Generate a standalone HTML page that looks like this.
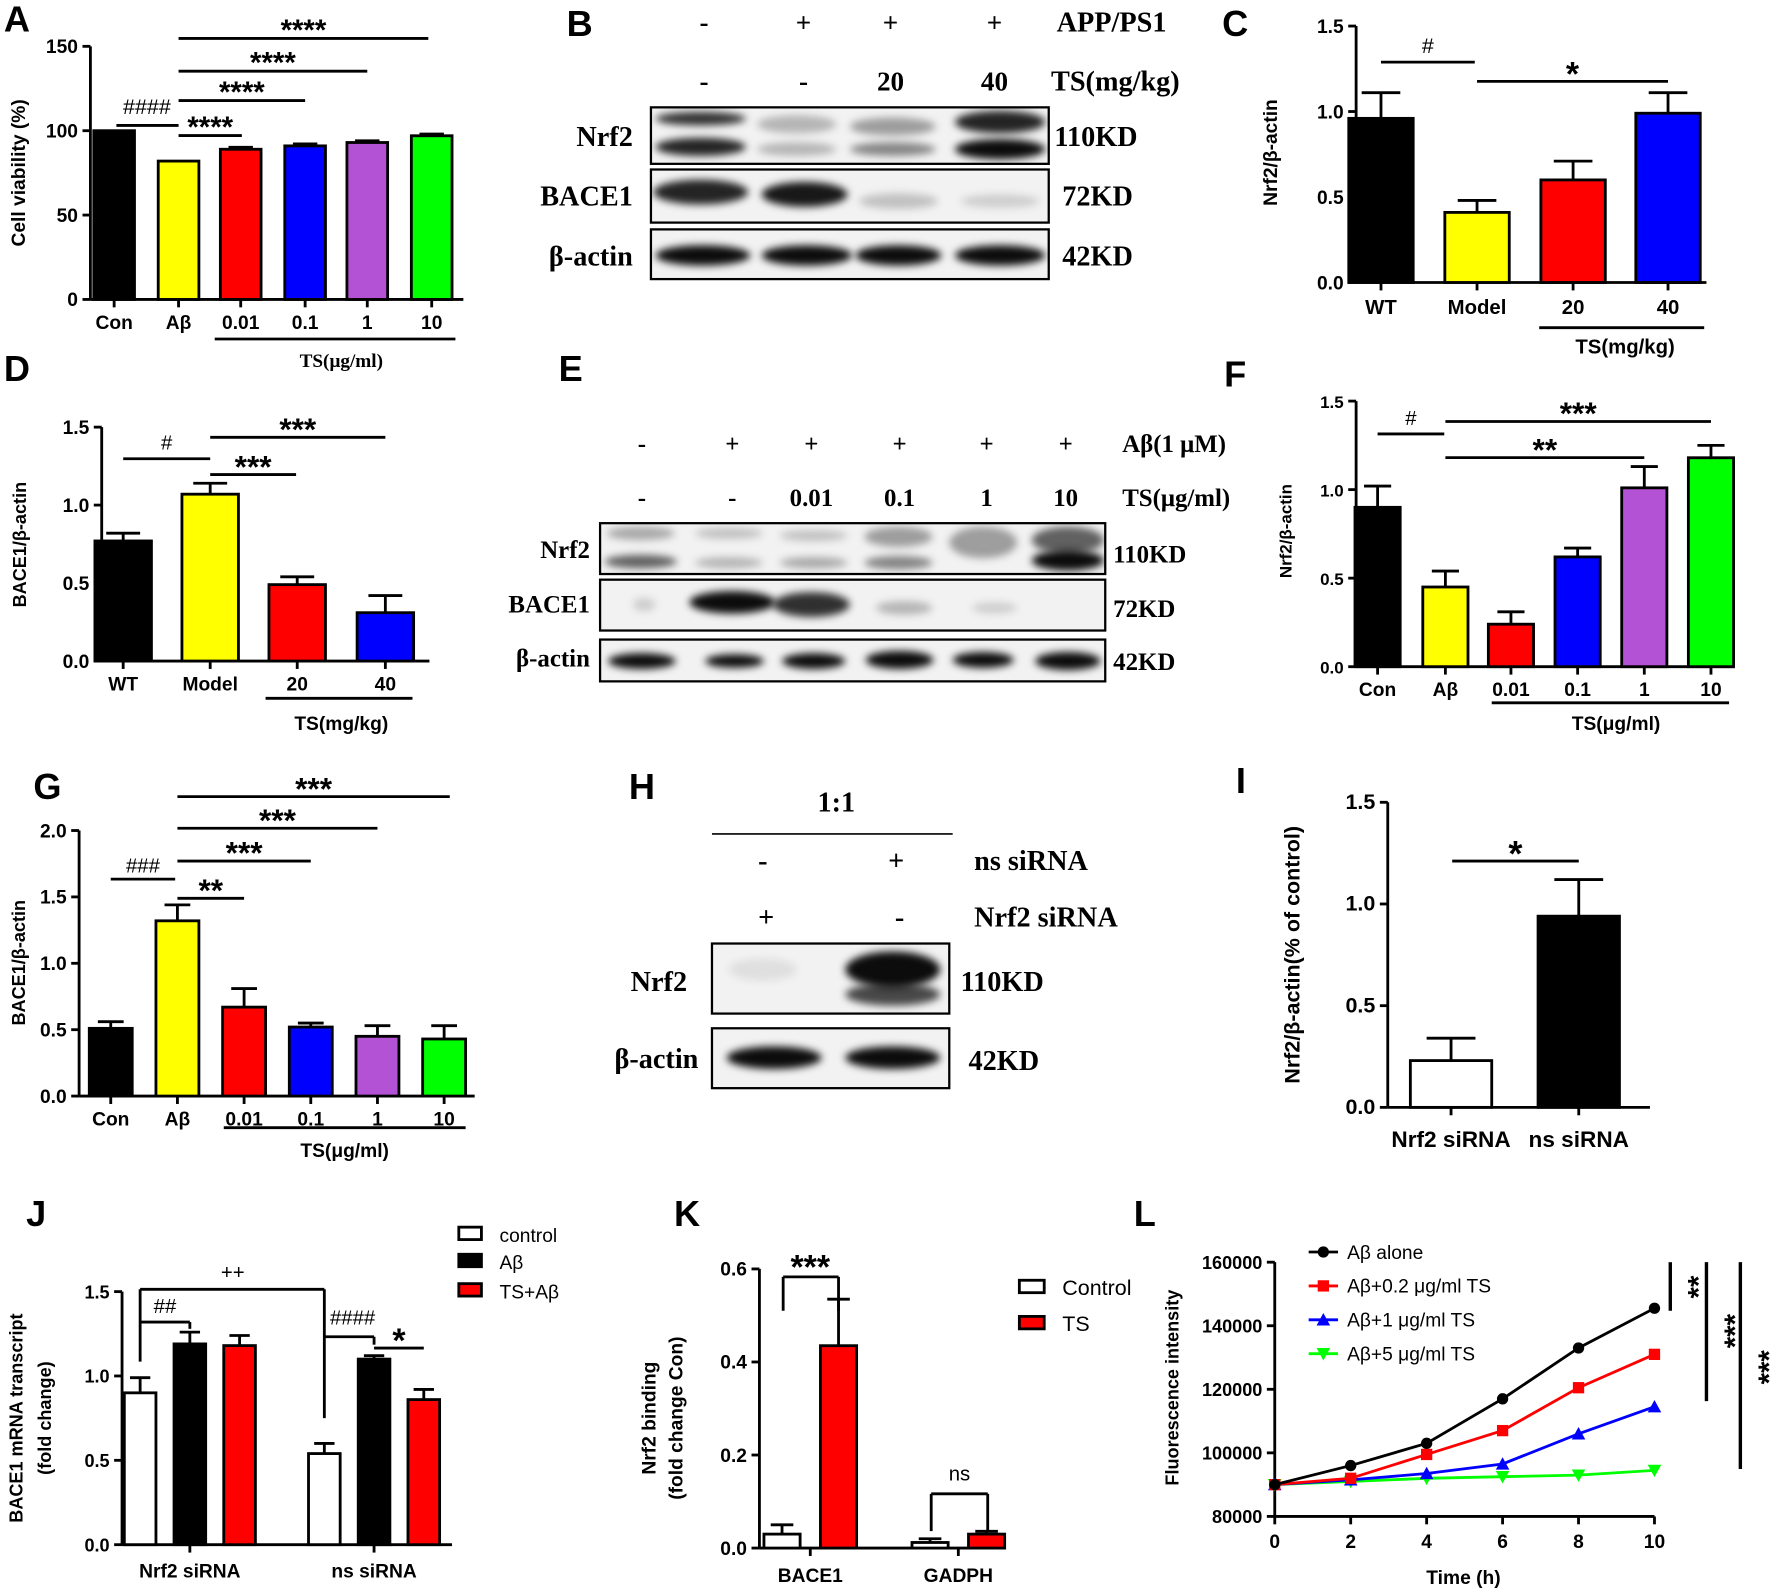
<!DOCTYPE html>
<html><head><meta charset="utf-8"><style>
html,body{margin:0;padding:0;background:#fff;}
svg{display:block;}
text{font-family:"Liberation Sans",sans-serif;}
.serif{font-family:"Liberation Serif",serif;font-weight:bold;}
</style></head><body>
<svg id="fig" width="1772" height="1591" viewBox="0 0 1568 1408" preserveAspectRatio="none" xmlns="http://www.w3.org/2000/svg">
<defs><filter id="blur" x="-30%" y="-100%" width="160%" height="300%"><feGaussianBlur stdDeviation="3.5"/></filter>
<filter id="blur2" x="-30%" y="-100%" width="160%" height="300%"><feGaussianBlur stdDeviation="6"/></filter></defs>
</svg>
<script>
// ---------- data ----------
const aCats=["Con","Aβ","0.01","0.1","1","10"];
const aVals=[100,82,89,91,93,97];
const aErrs=[0,0,1.2,1.2,1,1];
const cCats=["WT","Model","20","40"];
const cVals=[0.96,0.41,0.60,0.99];
const cErrs=[0.15,0.07,0.11,0.12];
const dCats=["WT","Model","20","40"];
const dVals=[0.77,1.07,0.49,0.31];
const dErrs=[0.05,0.07,0.05,0.11];
const fCats=["Con","Aβ","0.01","0.1","1","10"];
const fVals=[0.90,0.45,0.24,0.62,1.01,1.18];
const fErrs=[0.12,0.09,0.07,0.05,0.12,0.07];
const gCats=["Con","Aβ","0.01","0.1","1","10"];
const gVals=[0.51,1.32,0.67,0.52,0.45,0.43];
const gErrs=[0.05,0.12,0.14,0.03,0.08,0.10];
const iCats=["Nrf2 siRNA","ns siRNA"];
const iVals=[0.23,0.94];
const iErrs=[0.11,0.18];
const jGroups=["Nrf2 siRNA","ns siRNA"];
const jControl=[0.90,0.54];
const jAb=[1.19,1.10];
const jTsAb=[1.18,0.86];
const jControlErr=[0.09,0.06];
const jAbErr=[0.07,0.02];
const jTsAbErr=[0.06,0.06];
const kGroups=["BACE1","GADPH"];
const kControl=[0.03,0.012];
const kTS=[0.435,0.03];
const kControlErr=[0.02,0.008];
const kTSErr=[0.10,0.006];
const lTimes=[0,2,4,6,8,10];
const lAbAlone=[90000,96000,103000,117000,133000,145500];
const lAb02=[90000,92000,99500,107000,120500,131000];
const lAb1=[90000,91500,93500,96500,106000,114500];
const lAb5=[90000,91000,92000,92500,93000,94500];
const lYTicks=[80000,100000,120000,140000,160000];

const NS="http://www.w3.org/2000/svg";
const svg=document.getElementById('fig');
function el(tag,attrs,parent,txt){const e=document.createElementNS(NS,tag);for(const k in attrs)e.setAttribute(k,attrs[k]);if(txt!==undefined)e.textContent=txt;(parent||svg).appendChild(e);return e;}
function line(x1,y1,x2,y2,w,p,c){return el('line',{x1,y1,x2,y2,stroke:c||'#000','stroke-width':w||2.5},p);}
function text(x,y,s,size,opts,p){opts=opts||{};const t=el('text',{x,y,'font-size':size,'text-anchor':opts.anchor||'middle','font-weight':opts.weight||'bold',fill:'#000'},p,s);if(opts.cls)t.setAttribute('class',opts.cls);if(opts.rot)t.setAttribute('transform',`rotate(-90 ${x} ${y})`);return t;}
function stars(x,yCenter,s,fs,p){return text(x,yCenter+0.55*fs,s,fs,{weight:'bold'},p);}
function group(name){const g=el('g',{},svg);return g;}

function yAxis(g,x,yScale,ticks,labels,top,bottom,fs){line(x,top,x,bottom,2.5,g);ticks.forEach((t,i)=>{const y=yScale(t);line(x-7,y,x,y,2.5,g);text(x-11,y+6,labels[i],fs||17,{anchor:'end'},g);});}

function barChart(o){
  const g=group(o.name);
  const ys=v=>o.y0-(v-o.ymin)*o.ppu;
  yAxis(g,o.x0,ys,o.ticks,o.tickLabels,ys(o.ticks[o.ticks.length-1]),o.y0,o.fs);
  line(o.x0,o.y0,o.xEnd,o.y0,2.5,g);
  o.cats.forEach((c,i)=>{
    const cx=o.centers[i];
    line(cx,o.y0,cx,o.y0+7,2.5,g);
    const top=ys(o.vals[i]);
    const r=el('rect',{x:cx-o.bw/2,y:top,width:o.bw,height:o.y0-top,fill:o.colors[i],stroke:'#000','stroke-width':2.5},g);
    
    
    if(o.errs[i]>0){const et=ys(o.vals[i]+o.errs[i]);line(cx,top,cx,et,2.5,g);line(cx-o.bw*0.3,et,cx+o.bw*0.3,et,2.5,g);}
    text(cx,o.labelY,c,o.lfs||17,{},g);
  });
  return g;
}
function sig(g,x1,x2,y,label,fs,dy){line(x1,y,x2,y,2.5,g);
  if(label.indexOf('*')>=0){stars((x1+x2)/2,y-13,label,fs||28,g);}
  else text((x1+x2)/2,y-(dy||5),label,fs||19,{weight:'normal'},g);}

// ---------- panel letters ----------
[["A",15,28],["B",513,32],["C",1093,32],["D",15,337],["E",505,337],["F",1093,342],["G",42,707],["H",568,707],["I",1098,702],["J",32,1085],["K",608,1085],["L",1013,1085]].forEach(p=>{const t=text(p[1],p[2],p[0],32,{anchor:'middle'});});

// ---------- Panel A ----------
(function(){const g=barChart({name:'panel-a-chart',x0:80,y0:265,ymin:0,ppu:224/150,ticks:[0,50,100,150],tickLabels:["0","50","100","150"],xEnd:410,cats:aCats,vals:aVals,errs:aErrs,centers:[101,158,213,270,325,382],bw:36,colors:['#000','#ffff00','#ff0000','#0000ff','#b452d6','#00ff00'],labelY:291});
line(190,300,403,300,2.5,g);text(302,325,"TS(μg/ml)",17,{cls:'serif'},g);
text(22,153,"Cell viability (%)",17,{rot:1},g);
line(103,111,158,111,2.5,g);text(130,101,"####",19,{weight:'normal'},g);
sig(g,158,214,120,"****",26);sig(g,158,270,89,"****",26);sig(g,158,325,63,"****",26);sig(g,158,379,34,"****",26);
})();

// ---------- blots ----------
function blot(g,x,y,w,h,bands,name){const b=el('g',{},g);
  el('rect',{x,y,width:w,height:h,fill:'#f2f2f2',stroke:'#000','stroke-width':2},b);
  const cl=el('clipPath',{id:'c'+name},b);el('rect',{x,y,width:w,height:h},cl);
  const inner=el('g',{'clip-path':`url(#c${name})`},b);
  bands.forEach(bd=>{el('ellipse',{cx:bd[0],cy:bd[1],rx:bd[2],ry:bd[3],fill:'#000','fill-opacity':bd[4],filter:bd[5]?'url(#blur2)':'url(#blur)'},inner);});
  return b;}
(function(){const g=group('panel-b-blot');
 const lx=[623,711,788,880];
 ["-","+","+","+"].forEach((s,i)=>text(lx[i],28,s,24,{cls:'serif'},g));
 ["-","-","20","40"].forEach((s,i)=>text(lx[i],80,s,24,{cls:'serif'},g));
 text(935,28,"APP/PS1",25,{cls:'serif',anchor:'start'},g);text(930,80,"TS(mg/kg)",25,{cls:'serif',anchor:'start'},g);
 blot(g,576,95,352,50,[[620,105,40,6,0.8],[620,130,40,8,0.85],[705,110,35,8,0.25],[705,132,35,6,0.25],[790,112,38,8,0.35],[790,132,38,6,0.45],[885,108,40,10,0.85],[885,132,40,9,0.95]],'b-nrf2');
 blot(g,576,150,352,47,[[620,170,42,11,0.85],[712,172,38,11,0.9],[795,178,35,7,0.2],[885,178,35,6,0.15]],'b-bace1');
 blot(g,576,203,352,44,[[622,226,42,9,0.95],[714,226,40,9,0.95],[795,226,38,9,0.95],[885,226,40,9,0.95]],'b-actin');
 [["Nrf2",120],["BACE1",173],["β-actin",226]].forEach(r=>text(560,r[1]+9,r[0],25,{cls:'serif',anchor:'end'},g));
 [["110KD",933,120],["72KD",940,173],["42KD",940,226]].forEach(r=>text(r[1],r[2]+9,r[0],25,{cls:'serif',anchor:'start'},g));
})();
(function(){const g=group('panel-e-blot');
 const lx=[568,648,718,796,873,943];
 ["-","+","+","+","+","+"].forEach((s,i)=>text(lx[i],400,s,22,{cls:'serif'},g));
 ["-","-","0.01","0.1","1","10"].forEach((s,i)=>text(lx[i],448,s,22,{cls:'serif'},g));
 text(993,400,"Aβ(1 μM)",22,{cls:'serif',anchor:'start'},g);text(993,448,"TS(μg/ml)",22,{cls:'serif',anchor:'start'},g);
 blot(g,531,463,447,45,[[567,472,30,6,0.3],[567,497,32,6,0.6],[645,472,30,5,0.2],[645,498,30,5,0.25],[720,474,30,5,0.2],[720,498,30,5,0.3],[795,475,30,9,0.35],[795,498,30,6,0.45],[870,480,30,14,0.35],[945,478,32,12,0.6],[945,496,32,9,0.95]],'e-nrf2');
 blot(g,531,513,447,45,[[570,535,10,6,0.15],[648,533,38,10,0.95],[718,535,34,11,0.8],[800,538,25,6,0.25],[880,538,20,5,0.15]],'e-bace1');
 blot(g,531,566,447,37,[[568,585,30,7,0.95],[650,585,26,6,0.95],[720,585,28,7,0.95],[796,584,30,8,0.95],[870,584,27,7,0.95],[945,585,29,8,0.95]],'e-actin');
 [["Nrf2",486],["BACE1",534],["β-actin",582]].forEach(r=>text(522,r[1]+8,r[0],22,{cls:'serif',anchor:'end'},g));
 [["110KD",490],["72KD",538],["42KD",585]].forEach(r=>text(985,r[1]+8,r[0],22,{cls:'serif',anchor:'start'},g));
})();
(function(){const g=group('panel-h-blot');
 text(740,718,"1:1",25,{cls:'serif'},g);line(630,738,843,738,1.5,g);
 text(675,770,"-",25,{cls:'serif'},g);text(793,770,"+",25,{cls:'serif'},g);text(862,770,"ns siRNA",25,{cls:'serif',anchor:'start'},g);
 text(678,820,"+",25,{cls:'serif'},g);text(796,820,"-",25,{cls:'serif'},g);text(862,820,"Nrf2 siRNA",25,{cls:'serif',anchor:'start'},g);
 blot(g,630,835,210,62,[[675,858,30,10,0.08],[790,858,42,16,0.95],[790,880,42,10,0.7]],'h-nrf2');
 blot(g,630,910,210,53,[[685,936,42,10,0.95],[790,936,42,10,0.95]],'h-actin');
 text(608,877,"Nrf2",25,{cls:'serif',anchor:'end'},g);text(618,945,"β-actin",25,{cls:'serif',anchor:'end'},g);
 text(850,877,"110KD",25,{cls:'serif',anchor:'start'},g);text(857,947,"42KD",25,{cls:'serif',anchor:'start'},g);
})();

// ---------- Panel C ----------
(function(){const g=barChart({name:'panel-c-chart',x0:1200,y0:250,ymin:0,ppu:151.3,ticks:[0,0.5,1,1.5],tickLabels:["0.0","0.5","1.0","1.5"],xEnd:1510,cats:cCats,vals:cVals,errs:cErrs,centers:[1222,1307,1392,1476],bw:57,colors:['#000','#ffff00','#ff0000','#0000ff'],labelY:278,lfs:18});
line(1362,290,1508,290,2.5,g);text(1438,313,"TS(mg/kg)",18,{},g);text(1130,135,"Nrf2/β-actin",17,{rot:1},g);
sig(g,1222,1305,55,"#",19,8);sig(g,1307,1476,72,"*",30);})();
// ---------- Panel D ----------
(function(){const g=barChart({name:'panel-d-chart',x0:90,y0:585,ymin:0,ppu:138,ticks:[0,0.5,1,1.5],tickLabels:["0.0","0.5","1.0","1.5"],xEnd:380,cats:dCats,vals:dVals,errs:dErrs,centers:[109,186,263,341],bw:50,colors:['#000','#ffff00','#ff0000','#0000ff'],labelY:611});
line(235,618,365,618,2.5,g);text(302,646,"TS(mg/kg)",17,{},g);text(23,482,"BACE1/β-actin",16,{rot:1},g);
sig(g,109,186,406,"#",18,8);sig(g,186,262,420,"***",28);sig(g,186,341,387,"***",28);})();
// ---------- Panel F ----------
(function(){const g=barChart({name:'panel-f-chart',x0:1200,y0:590,ymin:0,ppu:156.7,ticks:[0,0.5,1,1.5],tickLabels:["0.0","0.5","1.0","1.5"],xEnd:1535,cats:fCats,vals:fVals,errs:fErrs,centers:[1219,1279,1337,1396,1455,1514],bw:40,colors:['#000','#ffff00','#ff0000','#0000ff','#b452d6','#00ff00'],labelY:616,fs:15});
line(1320,622,1530,622,2.5,g);text(1430,646,"TS(μg/ml)",17,{},g);text(1143,470,"Nrf2/β-actin",15,{rot:1},g);
sig(g,1219,1278,384,"#",18,8);sig(g,1279,1455,405,"**",28);sig(g,1279,1514,373,"***",28);})();
// ---------- Panel G ----------
(function(){const g=barChart({name:'panel-g-chart',x0:70,y0:970,ymin:0,ppu:117.5,ticks:[0,0.5,1,1.5,2],tickLabels:["0.0","0.5","1.0","1.5","2.0"],xEnd:420,cats:gCats,vals:gVals,errs:gErrs,centers:[98,157,216,275,334,393],bw:38,colors:['#000','#ffff00','#ff0000','#0000ff','#b452d6','#00ff00'],labelY:996});
line(198,998,412,998,2.5,g);text(305,1024,"TS(μg/ml)",17,{},g);text(22,852,"BACE1/β-actin",16,{rot:1},g);
sig(g,98,155,778,"###",18,6);sig(g,157,216,795,"**",28);sig(g,157,275,762,"***",28);sig(g,157,334,733,"***",28);sig(g,157,398,705,"***",28);})();
// ---------- Panel I ----------
(function(){const g=barChart({name:'panel-i-chart',x0:1228,y0:980,ymin:0,ppu:180,ticks:[0,0.5,1,1.5],tickLabels:["0.0","0.5","1.0","1.5"],xEnd:1460,cats:iCats,vals:iVals,errs:iErrs,centers:[1284,1397],bw:72,colors:['#fff','#000'],labelY:1015,lfs:20,fs:19});
text(1150,845,"Nrf2/β-actin(% of control)",19,{rot:1},g);sig(g,1285,1397,762,"*",32);})();

// ---------- Panel J ----------
(function(){const g=group('panel-j-chart');const x0=108,y0=1367,ppu=149.3;const ys=v=>y0-v*ppu;
 yAxis(g,x0,ys,[0,0.5,1,1.5],["0.0","0.5","1.0","1.5"],ys(1.5),y0,16);line(x0,y0,400,y0,2.5,g);
 const off=[-44,0,44],series=[jControl,jAb,jTsAb],errs=[jControlErr,jAbErr,jTsAbErr],cols=['#fff','#000','#ff0000'],centers=[168,331];
 jGroups.forEach((gn,i)=>{line(centers[i],y0,centers[i],y0+7,2.5,g);text(centers[i],1396,gn,17,{},g);
  series.forEach((s,k)=>{const cx=centers[i]+off[k],t=ys(s[i]);const r=el('rect',{x:cx-14,y:t,width:28,height:y0-t,fill:cols[k],stroke:'#000','stroke-width':2.5},g);
   
   const et=ys(s[i]+errs[k][i]);line(cx,t,cx,et,2.5,g);line(cx-9,et,cx+9,et,2.5,g);});});
 line(124,1141,287,1141,2.5,g);line(124,1141,124,1205,2.5,g);line(287,1141,287,1255,2.5,g);text(206,1132,"++",18,{weight:'normal'},g);
 line(124,1170,168,1170,2.5,g);line(168,1170,168,1176,2.5,g);text(146,1162,"##",18,{weight:'normal'},g);
 line(287,1183,331,1183,2.5,g);line(331,1183,331,1190,2.5,g);text(312,1172,"####",18,{weight:'normal'},g);
 sig(g,331,375,1193,"*",30);
 text(20,1255,"BACE1 mRNA transcript",16,{rot:1},g);text(45,1255,"(fold change)",16,{rot:1},g);
 [["control",'#fff',1092],["Aβ",'#000',1116],["TS+Aβ",'#ff0000',1142]].forEach(l=>{el('rect',{x:406,y:l[2]-6,width:20,height:11,fill:l[1],stroke:'#000','stroke-width':2.5},g);text(442,l[2]+7,l[0],17,{anchor:'start',weight:'normal'},g);});
})();
// ---------- Panel K ----------
(function(){const g=group('panel-k-chart');const x0=672,y0=1370,ppu=411.7;const ys=v=>y0-v*ppu;
 yAxis(g,x0,ys,[0,0.2,0.4,0.6],["0.0","0.2","0.4","0.6"],ys(0.6),y0,17);line(x0,y0,890,y0,2.5,g);
 const centers=[717,848];
 kGroups.forEach((gn,i)=>{line(centers[i],y0,centers[i],y0+7,2.5,g);text(centers[i],1400,gn,17,{},g);
  [[kControl,kControlErr,'#fff',-25],[kTS,kTSErr,'#ff0000',25]].forEach(s=>{const cx=centers[i]+s[3],t=ys(s[0][i]);const r=el('rect',{x:cx-16,y:t,width:32,height:y0-t,fill:s[2],stroke:'#000','stroke-width':2.5},g);
   
   const et=ys(s[0][i]+s[1][i]);line(cx,t,cx,et,2.5,g);line(cx-10,et,cx+10,et,2.5,g);});});
 line(693,1130,742,1130,2.5,g);line(693,1130,693,1160,2.5,g);line(742,1130,742,1160,2.5,g);stars(717,1115,"***",30,g);
 line(824,1322,874,1322,2.5,g);line(824,1322,824,1355,2.5,g);line(874,1322,874,1355,2.5,g);text(849,1310,"ns",18,{weight:'normal'},g);
 text(580,1255,"Nrf2 binding",17,{rot:1},g);text(604,1255,"(fold change Con)",17,{rot:1},g);
 el('rect',{x:902,y:1133,width:22,height:11,fill:'#fff',stroke:'#000','stroke-width':2.5},g);text(940,1146,"Control",19,{anchor:'start',weight:'normal'},g);
 el('rect',{x:902,y:1165,width:22,height:11,fill:'#ff0000',stroke:'#000','stroke-width':2.5},g);text(940,1178,"TS",19,{anchor:'start',weight:'normal'},g);
})();
// ---------- Panel L ----------
(function(){const g=group('panel-l-chart');const x0=1128,y0=1342;const ys=v=>y0-(v-80000)*(56.25/20000);const xs=t=>x0+t*33.6;
 yAxis(g,x0,ys,lYTicks,lYTicks.map(String),ys(160000),y0,16);line(x0,y0,xs(10),y0,2.5,g);
 lTimes.forEach(t=>{line(xs(t),y0,xs(t),y0+7,2.5,g);text(xs(t),1370,String(t),17,{},g);});
 text(1295,1402,"Time (h)",17,{},g);text(1043,1228,"Fluorescence intensity",16,{rot:1},g);
 const ser=[[lAbAlone,'#000','circle'],[lAb02,'#ff0000','square'],[lAb1,'#0000ff','tri'],[lAb5,'#00ff00','itri']];
 const marker=(x,y,c,m,p)=>{if(m==='circle')el('circle',{cx:x,cy:y,r:5,fill:c},p);else if(m==='square')el('rect',{x:x-5,y:y-5,width:10,height:10,fill:c},p);else if(m==='tri')el('polygon',{points:`${x},${y-6} ${x-6},${y+5} ${x+6},${y+5}`,fill:c},p);else el('polygon',{points:`${x},${y+6} ${x-6},${y-5} ${x+6},${y-5}`,fill:c},p);};
 ser.slice().reverse().forEach(s=>{const sg=el('g',{},g);
  el('polyline',{points:lTimes.map((t,i)=>xs(t)+','+ys(s[0][i])).join(' '),fill:'none',stroke:s[1],'stroke-width':2.5},sg);
  lTimes.forEach((t,i)=>marker(xs(t),ys(s[0][i]),s[1],s[2],sg));});
 [["Aβ alone",1108],["Aβ+0.2 μg/ml TS",1138],["Aβ+1 μg/ml TS",1168],["Aβ+5 μg/ml TS",1198]].forEach((l,i)=>{line(1158,l[1],1184,l[1],2.5,g,ser[i][1]);marker(1171,l[1],ser[i][1],ser[i][2],g);text(1192,l[1]+6,l[0],17,{anchor:'start',weight:'normal'},g);});
 line(1478,1117,1478,1160,3,g);text(1512,1139,"**",26,{rot:1,weight:'bold'},g);
 line(1510,1117,1510,1240,3,g);text(1544,1178,"***",26,{rot:1,weight:'bold'},g);
 line(1540,1117,1540,1300,3,g);text(1574,1210,"***",26,{rot:1,weight:'bold'},g);
})();
</script>
</body></html>
